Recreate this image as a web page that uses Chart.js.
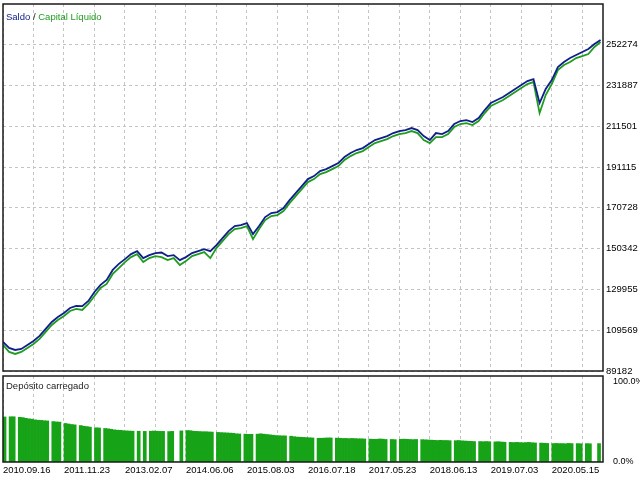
<!DOCTYPE html>
<html>
<head>
<meta charset="utf-8">
<script src="https://cdn.jsdelivr.net/npm/chart.js@4.4.1/dist/chart.umd.min.js"></script>
<style>
  body { margin: 0; background: #fff; }
  #wrap { position: relative; width: 640px; height: 480px; overflow: hidden; }
  canvas { position: absolute; left: 0; }
  #top { top: 0; }
  #bot { top: 360px; }
  .lbl { position: absolute; left: 6px; font: 9.5px 'Liberation Sans', sans-serif; white-space: nowrap; color: #222; }
</style>
</head>
<body>
<div id="wrap">
  <canvas id="top" width="640" height="378"></canvas>
  <canvas id="bot" width="640" height="120"></canvas>
  <div class="lbl" style="top:11px"><span style="color:#10208a">Saldo</span> / <span style="color:#1f9c1f">Capital Líquido</span></div>
  <div class="lbl" style="top:380px">Depósito carregado</div>
</div>
<script>
  // x axis date labels, one every 10 deals
  var dateLabels = ['2010.09.16', '2011.11.23', '2013.02.07', '2014.06.06', '2015.08.03',
                    '2016.07.18', '2017.05.23', '2018.06.13', '2019.07.03', '2020.05.15'];
  var yTickValues = [89182, 109569, 129955, 150342, 170728, 191115, 211501, 231887, 252274];

  var balance = [103700, 100700, 99700, 100200, 102200, 104200, 106700, 110200, 113700, 116200,
                 118200, 120700, 121700, 121600, 124200, 128700, 132200, 134700, 139700, 142700,
                 145100, 147600, 149100, 145600, 147100, 148100, 148400, 146600, 147100, 144600,
                 146100, 148100, 149100, 150100, 149100, 152100, 155600, 159100, 161600, 162100,
                 163100, 157600, 161600, 166100, 168100, 168600, 170600, 174600, 178100, 181600,
                 185100, 186600, 189100, 190100, 191600, 193100, 196100, 198100, 199600, 200600,
                 202600, 204600, 205600, 206600, 208100, 209100, 209600, 210600, 209600, 206600,
                 204600, 208100, 207600, 209100, 212600, 214100, 214600, 213600, 215600, 219600,
                 223100, 224600, 226100, 228100, 230100, 232100, 234100, 235100, 223100, 230100,
                 234600, 241100, 243600, 245600, 247100, 248600, 250100, 252600, 254600];

  var equity = [102200, 98700, 97700, 98700, 100700, 102700, 105200, 108700, 112200, 114700,
                116700, 119200, 120200, 119700, 122700, 126700, 130700, 132700, 137700, 140600,
                143600, 146100, 147600, 143600, 145600, 146600, 146100, 144600, 145600, 142100,
                144100, 146600, 147600, 148600, 145600, 150600, 154100, 157600, 160100, 160600,
                161600, 155100, 160100, 164600, 166600, 167100, 169100, 173100, 176600, 180100,
                183600, 185100, 187600, 188600, 190100, 191600, 194600, 196600, 198100, 199100,
                201100, 203100, 204100, 205100, 206600, 207600, 208100, 209100, 208100, 204600,
                203100, 206100, 206100, 207600, 211100, 212600, 213100, 212100, 214100, 218100,
                221600, 223100, 224600, 226600, 228600, 230600, 232600, 233600, 218100, 227100,
                232600, 239600, 242100, 243600, 245600, 246600, 247600, 251100, 253600];

  // deposit load in %, two bars per deal step
  var load = [52.4, 0, 52.6, 52.6, 0, 52.0, 51.6, 50.8, 50.2, 49.8,
              49.0, 48.6, 48.4, 48.0, 47.8, 0, 47.0, 46.6, 46.4, 0,
              44.8, 44.2, 43.6, 43.2, 0, 42.4, 41.6, 41.2, 40.6, 0,
              39.8, 39.6, 0, 39.0, 38.6, 38.0, 37.4, 37.0, 36.8, 36.4,
              36.2, 36.0, 35.8, 0, 35.8, 0, 35.6, 0, 35.8, 36.0,
              35.8, 35.6, 35.6, 0, 35.4, 35.6, 0, 0, 36.2, 0,
              36.6, 36.4, 35.8, 35.6, 35.4, 35.2, 35.2, 35.0, 34.8, 0,
              34.4, 34.2, 34.0, 33.8, 33.6, 33.4, 32.8, 32.6, 0, 32.4,
              32.2, 32.2, 0, 32.4, 32.8, 32.4, 32.0, 31.6, 31.2, 30.8,
              30.6, 30.4, 30.4, 0, 30.0, 29.4, 29.0, 28.8, 28.6, 28.4,
              28.2, 28.0, 0, 27.6, 27.6, 27.8, 28.0, 28.0, 0, 27.8,
              27.6, 27.4, 27.4, 27.2, 27.4, 27.2, 27.0, 27.0, 26.8, 0,
              26.6, 26.4, 26.4, 26.8, 26.6, 26.2, 0, 26.2, 26.0, 0,
              26.4, 26.6, 26.4, 26.2, 26.0, 26.2, 0, 26.0, 25.8, 25.6,
              25.4, 25.2, 25.0, 25.2, 25.0, 25.0, 24.8, 0, 24.8, 25.0,
              24.6, 24.4, 24.2, 24.0, 23.8, 0, 23.8, 23.6, 23.8, 23.6,
              0, 23.4, 23.6, 23.2, 23.0, 0, 22.8, 22.6, 22.8, 22.6,
              22.4, 22.6, 22.8, 22.4, 22.2, 0, 22.0, 21.8, 21.6, 0,
              21.4, 21.6, 21.4, 21.4, 21.2, 21.6, 21.4, 0, 21.4, 21.2,
              0, 21.4, 21.2, 0, 0, 21.4];

  var font = { family: "'Liberation Sans', sans-serif", size: 9.5 };
  var smallFont = { family: "'Liberation Sans', sans-serif", size: 9 };
  var gridColor = '#c4c4c4';
  var xMax = 98.4;

  // dark frame round the plot area, like the terminal draws it
  var frame = {
    id: 'frame',
    afterDraw: function(chart) {
      var a = chart.chartArea, ctx = chart.ctx;
      ctx.save();
      ctx.strokeStyle = '#1a1a1a';
      ctx.lineWidth = 1.5;
      ctx.strokeRect(a.left, a.top, a.right - a.left, a.bottom - a.top);
      ctx.restore();
    }
  };

  // no extra room for the first/last tick label
  var rightAxisFit = function(s) {
    s.width = 37;
    s.paddingTop = 0;
    s.paddingBottom = 0;
  };

  var toXY = function(arr) {
    return arr.map(function(v, i) { return { x: i, y: v }; });
  };

  new Chart(document.getElementById('top'), {
    type: 'line',
    data: {
      datasets: [
        { label: 'Saldo', data: toXY(balance), borderColor: '#10208a', borderWidth: 1.8, pointRadius: 0, tension: 0 },
        { label: 'Capital Líquido', data: toXY(equity), borderColor: '#1f9c1f', borderWidth: 1.8, pointRadius: 0, tension: 0 }
      ]
    },
    options: {
      responsive: false,
      animation: false,
      layout: { padding: { left: 3, top: 4, right: 0, bottom: 7 } },
      plugins: { legend: { display: false }, tooltip: { enabled: false } },
      scales: {
        x: {
          type: 'linear', min: 0, max: xMax, offset: false,
          ticks: { display: false, stepSize: 5, includeBounds: false },
          grid: { color: gridColor, drawTicks: false },
          border: { display: false, dash: [3, 3] },
          afterFit: function(s) { s.height = 0; }
        },
        y: {
          position: 'right', min: 89182, max: 272600,
          afterBuildTicks: function(s) {
            s.ticks = yTickValues.map(function(v) { return { value: v }; });
          },
          ticks: { font: font, color: '#000', padding: 3, callback: function(v) { return String(v); } },
          grid: { color: gridColor, drawTicks: false },
          border: { display: false, dash: [3, 3] },
          afterFit: rightAxisFit
        }
      }
    },
    plugins: [frame]
  });

  new Chart(document.getElementById('bot'), {
    type: 'bar',
    data: {
      datasets: [{
        label: 'Depósito carregado',
        data: load.map(function(v, k) { return { x: 0.25 + 0.5 * k, y: v }; }),
        backgroundColor: '#17a317',
        borderWidth: 0,
        barPercentage: 1,
        categoryPercentage: 1
      }]
    },
    options: {
      responsive: false,
      animation: false,
      layout: { padding: { left: 3, top: 16, right: 0, bottom: 0 } },
      plugins: { legend: { display: false }, tooltip: { enabled: false } },
      scales: {
        x: {
          type: 'linear', min: 0, max: xMax, offset: false,
          ticks: {
            stepSize: 5, includeBounds: false, autoSkip: false, maxRotation: 0,
            align: 'start', padding: 3, font: font, color: '#000',
            callback: function(v) { return v % 10 === 0 ? dateLabels[v / 10] : ''; }
          },
          grid: { color: gridColor, drawTicks: false, offset: false },
          border: { display: false, dash: [3, 3] },
          afterFit: function(s) { s.height = 18; }
        },
        y: {
          position: 'right', min: 0, max: 100,
          afterBuildTicks: function(s) { s.ticks = [{ value: 0 }, { value: 100 }]; },
          ticks: {
            font: smallFont, color: '#000', padding: 2,
            callback: function(v) { return v === 100 ? ['', '100.0%'] : v.toFixed(1) + '%'; }
          },
          grid: { display: false },
          border: { display: false },
          afterFit: rightAxisFit
        }
      }
    },
    plugins: [frame]
  });
</script>
</body>
</html>
